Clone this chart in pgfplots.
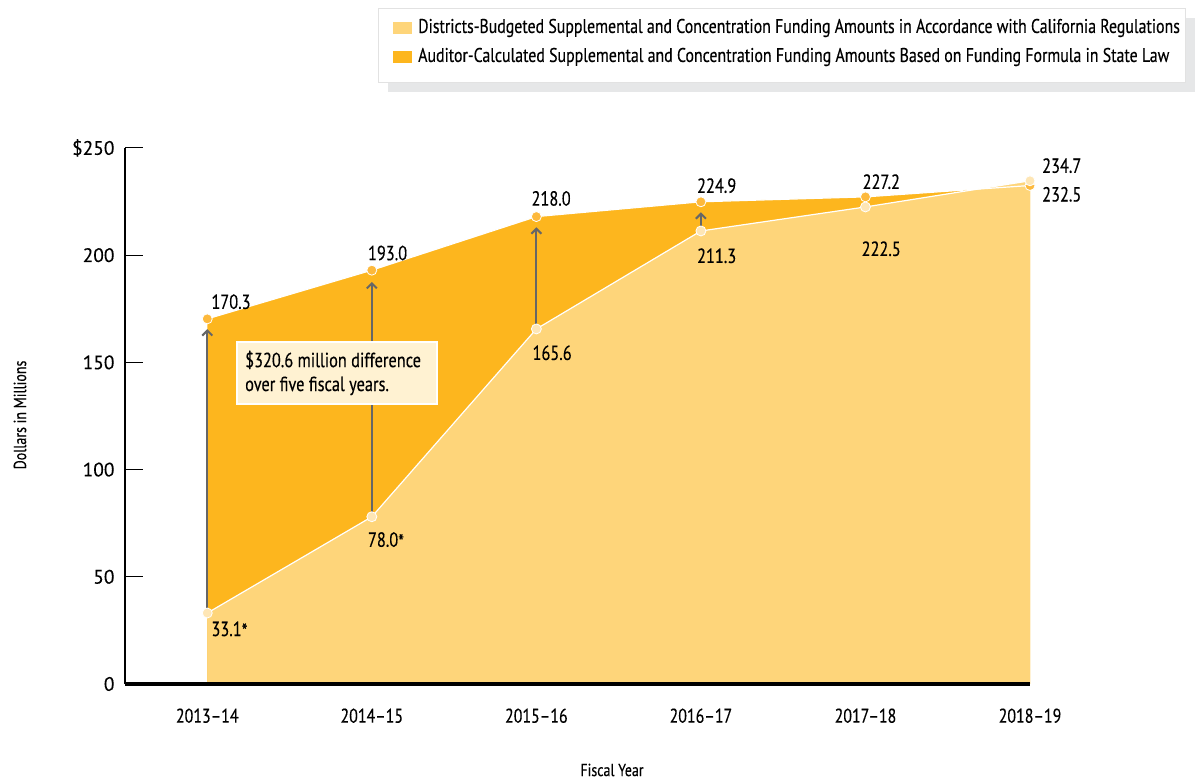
\documentclass[border=0pt]{standalone}
\usepackage{fontspec}
\setmainfont{PT Sans}[FakeStretch=0.8, FakeBold=0.3]
\newfontfamily\regfont{PT Sans}[FakeBold=0.2]
\usepackage{pgfplots}
\pgfplotsset{compat=1.18}
\usetikzlibrary{arrows.meta}
\definecolor{lightY}{HTML}{FED57A}
\definecolor{darkY}{HTML}{FDB61E}
\definecolor{ptLight}{HTML}{FEE6B5}
\definecolor{ptDark}{HTML}{FDB93C}
\definecolor{arrowG}{HTML}{666666}
\definecolor{boxFill}{HTML}{FFF2D2}
\definecolor{shadowG}{HTML}{E6E7E8}
\definecolor{legBorder}{HTML}{E2E2E2}
\newcommand{\lbl}{\fontsize{20.5}{20.5}\selectfont}
\begin{document}
\begin{tikzpicture}[x=1bp,y=1bp]
\path[use as bounding box] (0,0) rectangle (1201,782);
% legend
\fill[shadowG] (388,690) rectangle (1195,764);
\filldraw[fill=white, draw=legBorder, line width=0.8bp] (378,700) rectangle (1185,774);
\fill[lightY] (393,748) rectangle (412,760);
\fill[darkY] (393,719) rectangle (412,731);
\node[anchor=west, inner sep=0, font=\fontsize{19.9}{19.9}\selectfont] at (418,754) {Districts-Budgeted Supplemental and Concentration Funding Amounts in Accordance with California Regulations};
\node[anchor=west, inner sep=0, font=\fontsize{19.9}{19.9}\selectfont] at (418,725) {Auditor-Calculated Supplemental and Concentration Funding Amounts Based on Funding Formula in State Law};
% axis titles
\node[rotate=90, font=\fontsize{17.5}{17.5}\selectfont] at (20,367) {Dollars in Millions};
\node[font=\fontsize{17.5}{17.5}\selectfont] at (612,12) {Fiscal Year};
\begin{axis}[
  at={(125bp,98bp)}, anchor=south west,
  scale only axis, width=905bp, height=536bp,
  xmin=-0.5, xmax=5, ymin=0, ymax=250,
  axis lines*=left,
  x axis line style={line width=3.5bp},
  y axis line style={line width=2.5bp},
  ytick={0,50,100,150,200,250},
  yticklabels={\raisebox{-8bp}{0},50,100,150,200,\$250},
  xtick={0,1,2,3,4,5},
  xticklabels={2013--14,2014--15,2015--16,2016--17,2017--18,2018--19},
  major x tick style={draw=none},
  major y tick style={line width=1bp, black},
  tick align=inside,
  major tick length=18bp,
  yticklabel style={font=\regfont\fontsize{19.5}{19.5}\selectfont, xshift=-7bp},
  xticklabel style={font=\fontsize{20}{20}\selectfont, yshift=-21bp},
  clip=false,
  axis on top,
]
\addplot[fill=darkY, draw=none] coordinates {(0,170.3)(1,193.0)(2,218.0)(3,224.9)(4,227.2)(5,232.5)} \closedcycle;
\addplot[fill=lightY, draw=none] coordinates {(0,33.1)(1,78.0)(2,165.6)(3,211.3)(4,222.5)(5,234.7)} \closedcycle;
\addplot[white, line width=1.2bp] coordinates {(0,170.3)(1,193.0)(2,218.0)(3,224.9)(4,227.2)(5,232.5)};
\addplot[white, line width=1.2bp] coordinates {(0,33.1)(1,78.0)(2,165.6)(3,211.3)(4,222.5)(5,234.7)};
% arrows
\addplot[arrowG, line width=2bp, -{Straight Barb[length=5bp,width=10bp,line width=2bp]}] coordinates {(0,33.1)(0,165.5)};
\addplot[arrowG, line width=2bp, -{Straight Barb[length=5bp,width=10bp,line width=2bp]}] coordinates {(1,78.0)(1,187.5)};
\addplot[arrowG, line width=2bp, -{Straight Barb[length=5bp,width=10bp,line width=2bp]}] coordinates {(2,165.6)(2,213)};
\addplot[arrowG, line width=2bp, -{Straight Barb[length=5bp,width=10bp,line width=2bp]}] coordinates {(3,211.3)(3,220)};
% markers
\addplot[only marks, mark=*, mark size=5bp, mark options={fill=ptDark, draw=white, line width=0.8bp}] coordinates {(0,170.3)(1,193.0)(2,218.0)(3,224.9)(4,227.2)(5,232.5)};
\addplot[only marks, mark=*, mark size=5bp, mark options={fill=ptLight, draw=white, line width=0.8bp}] coordinates {(0,33.1)(1,78.0)(2,165.6)(3,211.3)(4,222.5)(5,234.7)};
% value labels
\node[anchor=base west, inner sep=0, font=\lbl] at ([xshift=4bp,yshift=10bp]axis cs:0,170.3) {170.3};
\node[anchor=base west, inner sep=0, font=\lbl] at ([xshift=-4bp,yshift=10bp]axis cs:1,193.0) {193.0};
\node[anchor=base west, inner sep=0, font=\lbl] at ([xshift=-5bp,yshift=11bp]axis cs:2,218.0) {218.0};
\node[anchor=base west, inner sep=0, font=\lbl] at ([xshift=-4bp,yshift=9bp]axis cs:3,224.9) {224.9};
\node[anchor=base west, inner sep=0, font=\lbl] at ([xshift=-3bp,yshift=8bp]axis cs:4,227.2) {227.2};
\node[anchor=base west, inner sep=0, font=\lbl] at ([xshift=12bp,yshift=8bp]axis cs:5,234.7) {234.7};
\node[anchor=base west, inner sep=0, font=\lbl] at ([xshift=12bp,yshift=-16bp]axis cs:5,232.5) {232.5};
\node[anchor=base west, inner sep=0, font=\lbl] at ([xshift=4bp,yshift=-23bp]axis cs:0,33.1) {33.1\raisebox{-2bp}{*}};
\node[anchor=base west, inner sep=0, font=\lbl] at ([xshift=-4bp,yshift=-30bp]axis cs:1,78.0) {78.0\raisebox{-2bp}{*}};
\node[anchor=base west, inner sep=0, font=\lbl] at ([xshift=-4bp,yshift=-31bp]axis cs:2,165.6) {165.6};
\node[anchor=base west, inner sep=0, font=\lbl] at ([xshift=-4bp,yshift=-32bp]axis cs:3,211.3) {211.3};
\node[anchor=base west, inner sep=0, font=\lbl] at ([xshift=-4bp,yshift=-49bp]axis cs:4,222.5) {222.5};
\end{axis}
% annotation box
\filldraw[fill=boxFill, draw=white, line width=1.5bp] (237,378) rectangle (437,440);
\node[anchor=west, align=left, inner sep=0, font=\fontsize{20.5}{24}\selectfont] at (245,409) {\$320.6 million difference\\over five fiscal years.};
\end{tikzpicture}
\end{document}
